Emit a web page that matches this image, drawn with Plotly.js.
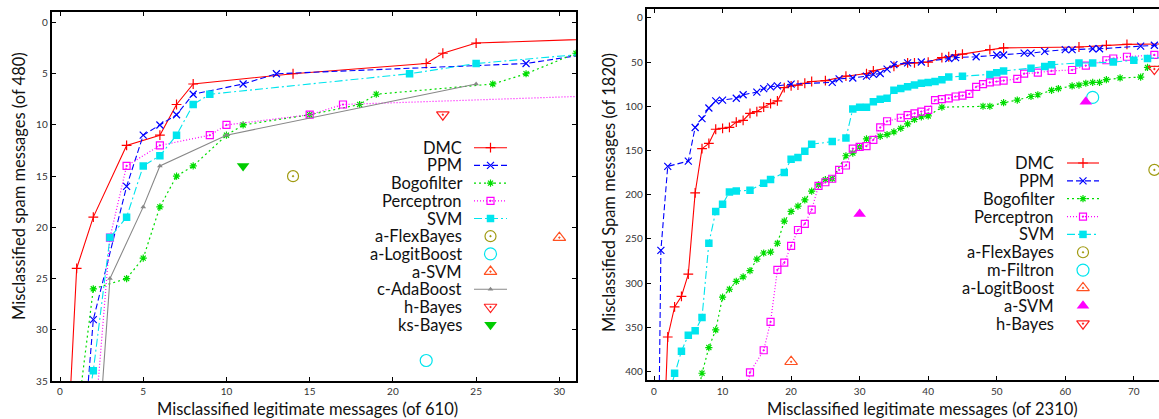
<!DOCTYPE html>
<html><head><meta charset="utf-8">
<script src="https://cdn.plot.ly/plotly-3.0.1.min.js"></script>
<style>html,body{margin:0;padding:0;overflow:hidden;background:#fff}#chart{width:1200px;height:419px}</style>
</head><body><div id="chart"></div>
<script>
// ---------------- DATA: left panel (of 610 legit / 480 spam) ----------------
const leftDMC_x = [0,1,2,4,6,7,8,14,22,23,25,43];
const leftDMC_y = [56,24,19,12,11,8,6,5,4,3,2,1];
const leftPPM_x = [1,2,4,5,6,7,8,11,13,28,32];
const leftPPM_y = [49,29,16,11,10,9,7,6,5,4,3];
const leftBogo_x = [1,2,4,5,6,7,8,10,11,15,18,19,26,28,31];
const leftBogo_y = [39,26,25,23,18,15,14,11,10,9,8,7,6,5,3];
const leftPerc_x = [2,3,4,6,9,10,15,17,35];
const leftPerc_y = [41,21,14,12,11,10,9,8,7];
const leftSVM_x = [1,2,3,4,5,6,7,8,9,21,25,32];
const leftSVM_y = [44,34,21,19,14,13,11,8,7,5,4,3];
const leftCAda_x = [2,3,5,6,10,25];
const leftCAda_y = [48,25,18,14,11,6];
const leftFlex_x = [14], leftFlex_y = [15];
const leftLogit_x = [22], leftLogit_y = [33];
const leftASVM_x = [30], leftASVM_y = [21];
const leftHBayes_x = [23], leftHBayes_y = [9];
const leftKsBayes_x = [11], leftKsBayes_y = [14];

// ---------------- DATA: right panel (of 2310 legit / 1820 spam) ----------------
const rightDMC_x = [1,2,3,4,5,6,7,8,9,10,11,12,13,14,15,16,17,18,19,20,21,22,23,25,28,31,32,35,37,38,40,42,43,44,45,49,51,62,66,69,80];
const rightDMC_y = [560,361,327,315,290,198,148,142,126,125,124,118,116,108,106,101,97,94,79,77,76,74,72,71,66,63,60,55,51,51,50,45,44,42,41,36,34,33,31,30,29];
const rightPPM_x = [0,1,2,5,6,7,8,9,10,12,13,15,16,17,18,20,26,27,29,31,32,33,34,35,37,39,43,44,47,50,51,54,55,57,60,61,64,65,71,73,76];
const rightPPM_y = [930,263,168,162,124,114,102,94,93,91,87,84,80,78,77,75,73,69,68,66,64,63,58,53,51,50,46,45,44,42,42,40,40,38,36,36,35,35,32,31,30];
const rightBogo_x = [6,7,8,9,10,11,12,13,14,15,16,17,18,19,20,21,22,23,24,25,26,28,29,30,31,33,34,35,36,37,38,39,40,42,48,49,51,53,55,56,58,59,61,62,63,64,65,66,68,71,72,75];
const rightBogo_y = [442,402,373,353,316,307,298,293,286,273,266,265,255,230,219,213,206,196,189,183,182,156,153,146,137,134,132,129,125,120,115,112,111,101,100,100,96,93,89,87,82,80,77,76,74,73,73,70,68,67,56,53];
const rightPerc_x = [13,14,16,17,18,19,20,21,22,23,24,25,26,27,28,29,30,31,32,33,34,36,37,38,39,40,41,42,43,44,45,46,47,48,49,50,51,53,54,56,58,61,63,66,67,69,73];
const rightPerc_y = [450,401,376,344,285,277,258,240,233,217,190,186,182,172,167,148,146,145,138,124,117,113,110,108,106,104,93,92,91,89,88,86,78,75,73,72,71,69,63,62,60,59,54,48,46,44,42];
const rightSVM_x = [2,3,4,5,6,7,8,9,10,11,12,14,16,17,19,20,21,22,23,26,28,29,30,31,32,33,34,35,36,37,38,39,40,41,42,43,45,49,50,51,55,57,58,62,64,67,70,72,76];
const rightSVM_y = [430,402,377,359,354,339,255,219,211,197,196,195,187,183,175,160,158,151,143,140,136,103,101,101,95,92,91,82,80,78,76,74,73,72,70,67,66,64,62,60,57,55,53,51,51,50,48,46,44];
const rightFlex_x = [73], rightFlex_y = [172];
const rightMFiltron_x = [64], rightMFiltron_y = [90];
const rightLogit_x = [20], rightLogit_y = [389];
const rightASVM_x = [30,63], rightASVM_y = [222,95];
const rightHBayes_x = [73], rightHBayes_y = [58];

const leftNames = ['DMC','PPM','Bogofilter','Perceptron','SVM','a-FlexBayes','a-LogitBoost','a-SVM','c-AdaBoost','h-Bayes','ks-Bayes'];
const rightNames = ['DMC','PPM','Bogofilter','Perceptron','SVM','a-FlexBayes','m-Filtron','a-LogitBoost','a-SVM','h-Bayes'];

const leftTicksX = [0,5,10,15,20,25,30];
const leftTicksY = [0,5,10,15,20,25,30,35];
const rightTicksX = [0,10,20,30,40,50,60,70];
const rightTicksY = [0,50,100,150,200,250,300,350,400];

// ---------------- STYLES ----------------
const W = 1200, H = 419;
const FONT = 'Lato, "Open Sans", sans-serif';
const ST = {
  DMC:   {color:'#ff0000', dash:'solid', symbol:'cross-thin-open', size:7, lw:1.1},
  PPM:   {color:'#0000ff', dash:'6px,3px', symbol:'x-thin-open', size:7, lw:1.1},
  Bogo:  {color:'#00dd00', dash:'2px,3px', symbol:'asterisk-open', size:6, lw:1.2},
  Perc:  {color:'#ff00ff', dash:'1px,2px', symbol:'square-open-dot', size:7, lw:1.2},
  SVM:   {color:'#00e5ee', dash:'8px,3px,2px,3px', symbol:'square', size:7.5, lw:1.1},
  CAda:  {color:'#888888', dash:'solid', symbol:'triangle-up', size:5, lw:1.1},
  Flex:  {color:'#a09a10', symbol:'circle-open-dot', size:11},
  Logit: {color:'#00e5ee', symbol:'circle-open', size:12},
  ASVMo: {color:'#ff5020', symbol:'triangle-up-open-dot', size:11},
  HB:    {color:'#ff2020', symbol:'triangle-down-open-dot', size:11},
  KsB:   {color:'#00cc00', symbol:'triangle-down', size:11},
  LogitT:{color:'#ff5020', symbol:'triangle-up-open-dot', size:11},
  ASVMm: {color:'#ff00ff', symbol:'triangle-up', size:11}
};

function markerOf(s){
  const filled = !/open/.test(s.symbol);
  return {symbol:s.symbol, size:s.size, color:s.color,
          line:{color:s.color, width: filled ? 0 : 1.2}};
}
function lineTrace(xs, ys, s, xa, ya, name){
  return {type:'scatter', mode:'lines+markers', x:xs, y:ys, xaxis:xa, yaxis:ya, name:name,
    line:{color:s.color, width:s.lw, dash:s.dash}, marker:markerOf(s), showlegend:false, cliponaxis:true};
}
function pointTrace(xs, ys, s, xa, ya, name){
  return {type:'scatter', mode:'markers', x:xs, y:ys, xaxis:xa, yaxis:ya, name:name,
    marker:markerOf(s), showlegend:false, cliponaxis:true};
}

const traces = [];
// left panel
traces.push(lineTrace(leftDMC_x, leftDMC_y, ST.DMC, 'x', 'y', leftNames[0]));
traces.push(lineTrace(leftPPM_x, leftPPM_y, ST.PPM, 'x', 'y', leftNames[1]));
traces.push(lineTrace(leftBogo_x, leftBogo_y, ST.Bogo, 'x', 'y', leftNames[2]));
traces.push(lineTrace(leftPerc_x, leftPerc_y, ST.Perc, 'x', 'y', leftNames[3]));
traces.push(lineTrace(leftSVM_x, leftSVM_y, ST.SVM, 'x', 'y', leftNames[4]));
traces.push(pointTrace(leftFlex_x, leftFlex_y, ST.Flex, 'x', 'y', leftNames[5]));
traces.push(pointTrace(leftLogit_x, leftLogit_y, ST.Logit, 'x', 'y', leftNames[6]));
traces.push(pointTrace(leftASVM_x, leftASVM_y, ST.ASVMo, 'x', 'y', leftNames[7]));
traces.push(lineTrace(leftCAda_x, leftCAda_y, ST.CAda, 'x', 'y', leftNames[8]));
traces.push(pointTrace(leftHBayes_x, leftHBayes_y, ST.HB, 'x', 'y', leftNames[9]));
traces.push(pointTrace(leftKsBayes_x, leftKsBayes_y, ST.KsB, 'x', 'y', leftNames[10]));
// right panel
traces.push(lineTrace(rightDMC_x, rightDMC_y, ST.DMC, 'x2', 'y2', rightNames[0]));
traces.push(lineTrace(rightPPM_x, rightPPM_y, ST.PPM, 'x2', 'y2', rightNames[1]));
traces.push(lineTrace(rightBogo_x, rightBogo_y, ST.Bogo, 'x2', 'y2', rightNames[2]));
traces.push(lineTrace(rightPerc_x, rightPerc_y, ST.Perc, 'x2', 'y2', rightNames[3]));
traces.push(lineTrace(rightSVM_x, rightSVM_y, ST.SVM, 'x2', 'y2', rightNames[4]));
traces.push(pointTrace(rightFlex_x, rightFlex_y, ST.Flex, 'x2', 'y2', rightNames[5]));
traces.push(pointTrace(rightMFiltron_x, rightMFiltron_y, ST.Logit, 'x2', 'y2', rightNames[6]));
traces.push(pointTrace(rightLogit_x, rightLogit_y, ST.LogitT, 'x2', 'y2', rightNames[7]));
traces.push(pointTrace(rightASVM_x, rightASVM_y, ST.ASVMm, 'x2', 'y2', rightNames[8]));
traces.push(pointTrace(rightHBayes_x, rightHBayes_y, ST.HB, 'x2', 'y2', rightNames[9]));

// ---------------- custom legends (text right-aligned, sample on the right) ----------------
const annotations = [];
function legend(names, styles, hasLine, textRight, sx0, sx1, y0, dy){
  names.forEach((nm, i) => {
    const y = y0 + i*dy, s = styles[i];
    annotations.push({xref:'paper', yref:'paper', x:textRight/W, y:1 - y/H, xanchor:'right', yanchor:'middle',
      text:nm, showarrow:false, font:{family:FONT, size:16.5, color:'#111'}});
    if (hasLine[i]) {
      traces.push({type:'scatter', mode:'lines', x:[sx0, sx1], y:[y, y], xaxis:'x3', yaxis:'y3',
        line:{color:s.color, width:s.lw, dash:s.dash}, showlegend:false, hoverinfo:'skip'});
    }
    traces.push({type:'scatter', mode:'markers', x:[(sx0+sx1)/2], y:[y], xaxis:'x3', yaxis:'y3',
      marker:markerOf(s), showlegend:false, hoverinfo:'skip'});
  });
}
legend(leftNames, [ST.DMC,ST.PPM,ST.Bogo,ST.Perc,ST.SVM,ST.Flex,ST.Logit,ST.ASVMo,ST.CAda,ST.HB,ST.KsB],
  [1,1,1,1,1,0,0,0,1,0,0], 464, 474, 507, 147.7, 17.7);
legend(rightNames, [ST.DMC,ST.PPM,ST.Bogo,ST.Perc,ST.SVM,ST.Flex,ST.Logit,ST.LogitT,ST.ASVMm,ST.HB],
  [1,1,1,1,1,0,0,0,0,0], 1056, 1067, 1099, 163, 17.85);

// x tick labels: text traces placed through each panel's x scale,
// on a hidden pixel-unit y axis (y4 / y5) that shares the panel's x axis.
const tickFont = {family:FONT, size:10, color:'#333'};
const TICK_ROW = 392.5;
traces.push({type:'scatter', mode:'text', x:leftTicksX, y:leftTicksX.map(() => TICK_ROW), xaxis:'x', yaxis:'y4',
  text:leftTicksX.map(String), textposition:'middle center', textfont:tickFont, cliponaxis:false, showlegend:false, hoverinfo:'skip'});
traces.push({type:'scatter', mode:'text', x:rightTicksX, y:rightTicksX.map(() => TICK_ROW), xaxis:'x2', yaxis:'y5',
  text:rightTicksX.map(String), textposition:'middle center', textfont:tickFont, cliponaxis:false, showlegend:false, hoverinfo:'skip'});

// axis titles
const titleFont = {family:FONT, size:16.5, color:'#111'};
annotations.push({xref:'paper', yref:'paper', x:307/W, y:1-409/H, xanchor:'center', yanchor:'middle', showarrow:false,
  text:'Misclassified legitimate messages (of 610)', font:titleFont});
annotations.push({xref:'paper', yref:'paper', x:922/W, y:1-409/H, xanchor:'center', yanchor:'middle', showarrow:false,
  text:'Misclassified legitimate messages (of 2310)', font:titleFont});
annotations.push({xref:'paper', yref:'paper', x:19/W, y:1-186/H, xanchor:'center', yanchor:'middle', showarrow:false, textangle:-90,
  text:'Misclassified spam messages (of 480)', font:titleFont});
annotations.push({xref:'paper', yref:'paper', x:609/W, y:1-192/H, xanchor:'center', yanchor:'middle', showarrow:false, textangle:-90,
  text:'Misclassified Spam messages (of 1820)', font:titleFont});

const axBase = {showline:true, linecolor:'#000', linewidth:2, mirror:'ticks', ticks:'inside', ticklen:4,
  tickwidth:1, tickcolor:'#000', showgrid:false, zeroline:false, tickmode:'array',
  tickfont:tickFont};
const hiddenY = {domain:[0,1], range:[H,0], visible:false, fixedrange:true, overlaying:false};

const layout = {
  width:W, height:H, margin:{l:0, r:0, t:0, b:0}, paper_bgcolor:'#fff', plot_bgcolor:'rgba(0,0,0,0)',
  font:{family:FONT}, showlegend:false,
  xaxis: Object.assign({}, axBase, {domain:[51.7/W, 576/W], range:[-0.5, 31], anchor:'y', tickvals:leftTicksX, showticklabels:false}),
  yaxis: Object.assign({}, axBase, {domain:[1-381/H, 1-12.3/H], range:[35, -1], anchor:'x', tickvals:leftTicksY}),
  xaxis2: Object.assign({}, axBase, {domain:[646.7/W, 1190/W], range:[-1.07, 78.2], anchor:'y2', tickvals:rightTicksX, showticklabels:false}),
  yaxis2: Object.assign({}, axBase, {domain:[1-380.3/H, 1-9/H], range:[410, -10], anchor:'x2', tickvals:rightTicksY}),
  xaxis3: {domain:[0,1], range:[0,W], anchor:'y3', visible:false, fixedrange:true},
  yaxis3: {domain:[0,1], range:[H,0], anchor:'x3', visible:false, fixedrange:true},
  yaxis4: {domain:[0,1], range:[H,0], anchor:'x', visible:false, fixedrange:true},
  yaxis5: {domain:[0,1], range:[H,0], anchor:'x2', visible:false, fixedrange:true},
  annotations: annotations
};

Plotly.newPlot('chart', traces, layout, {displayModeBar:false, staticPlot:true});
</script></body></html>
